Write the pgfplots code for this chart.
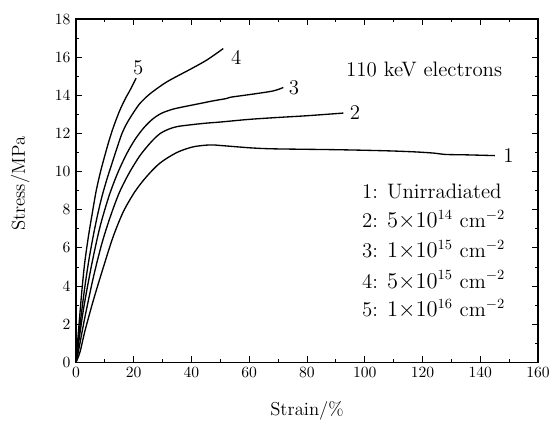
\documentclass[border=0pt]{standalone}
\usepackage{pgfplots}
\pgfplotsset{compat=1.18}
\begin{document}
\begin{tikzpicture}
\begin{axis}[
  scale only axis,
  width=296pt, height=220pt,
  xmin=0, xmax=160, ymin=0, ymax=18,
  xtick={0,20,...,160}, ytick={0,2,...,18},
  minor x tick num=1, minor y tick num=1,
  tick align=inside, tick pos=both,
  major tick length=4pt, minor tick length=2pt,
  axis line style={line width=0.8pt},
  every tick/.style={line width=0.6pt, black},
  tick label style={font=\fontsize{10}{12}\selectfont},
  xlabel={Strain/\%}, ylabel={Stress/MPa},
  label style={font=\fontsize{12}{14}\selectfont},
  xlabel style={at={(axis description cs:0.5,-0.14)}, anchor=center},
  ylabel style={at={(axis description cs:-0.121,0.52)}, anchor=center},
  clip=false,
]
\path (rel axis cs:-0.1645,-0.178) rectangle (rel axis cs:1.0368,1.0554);
% curve 1: unirradiated
\addplot[black, line width=0.85pt, smooth] coordinates {
(0,0)(1.4,0.55)(3.1,1.65)(6,3.25)(9.5,5.0)(12.9,6.6)(16.4,7.9)(20.4,8.95)(24.5,9.75)(29.1,10.45)(34.9,11.0)(40.6,11.3)(46.4,11.4)(50,11.37)(55,11.31)(60,11.25)(65,11.21)(70,11.19)(80,11.17)(90,11.15)(100,11.12)(110,11.08)(118,11.03)(124,10.97)(128,10.9)(135,10.88)(145.1,10.84)
};
% curve 2
\addplot[black, line width=0.85pt, smooth] coordinates {
(0,0)(0.8,0.55)(3.1,2.38)(6,4.45)(8.9,6.2)(11.8,7.6)(15,8.9)(18.5,9.95)(22.2,10.85)(26,11.55)(29,11.98)(32,12.22)(35,12.36)(40,12.46)(45,12.54)(50,12.6)(60,12.74)(70,12.84)(80,12.93)(92.6,13.07)
};
% curve 3
\addplot[black, line width=0.85pt, smooth] coordinates {
(0,0)(2.5,2.7)(5.4,5.1)(8.3,7.1)(11.5,8.75)(14.5,9.95)(17.6,10.95)(20.5,11.7)(23.5,12.3)(26.5,12.75)(29.5,13.05)(33,13.25)(36,13.36)(42.9,13.57)(47.5,13.71)(52,13.83)(53.5,13.9)(56.8,13.97)(62,14.08)(68.3,14.23)(71.8,14.41)
};
% curve 4
\addplot[black, line width=0.85pt, smooth] coordinates {
(0,0)(1.5,2.1)(3.1,4.0)(4.5,5.4)(6,6.65)(7.5,7.75)(9,8.7)(10.7,9.6)(12.4,10.4)(14,11.15)(15.8,11.95)(17.5,12.5)(19.5,13.0)(22,13.55)(25,14.0)(28,14.35)(31.4,14.7)(35,15.0)(40,15.4)(45.3,15.85)(51,16.45)
};
% curve 5
\addplot[black, line width=0.85pt, smooth] coordinates {
(0,0)(1,1.9)(2,3.7)(3,5.2)(4.3,6.6)(5.5,7.7)(7,9.0)(8.5,10.0)(10,10.85)(11.5,11.65)(13,12.35)(15,13.15)(17,13.8)(19,14.35)(20.8,14.9)
};
\begin{scope}[font=\fontsize{13.4}{16}\selectfont]
\node at (axis cs:21.6,15.45) {5};
\node at (axis cs:55.5,16.0) {4};
\node at (axis cs:75.5,14.4) {3};
\node at (axis cs:96.6,13.08) {2};
\node at (axis cs:149.8,10.86) {1};
\node at (axis cs:120.6,15.36) {110 keV electrons};
\node[anchor=west, inner sep=0pt] at (axis cs:99,8.94) {1: Unirradiated};
\node[anchor=west, inner sep=0pt] at (axis cs:99,7.45) {2: $5{\times}10^{14}$~cm$^{-2}$};
\node[anchor=west, inner sep=0pt] at (axis cs:99,5.88) {3: $1{\times}10^{15}$~cm$^{-2}$};
\node[anchor=west, inner sep=0pt] at (axis cs:99,4.30) {4: $5{\times}10^{15}$~cm$^{-2}$};
\node[anchor=west, inner sep=0pt] at (axis cs:99,2.82) {5: $1{\times}10^{16}$~cm$^{-2}$};
\end{scope}
\end{axis}
\end{tikzpicture}
\end{document}
